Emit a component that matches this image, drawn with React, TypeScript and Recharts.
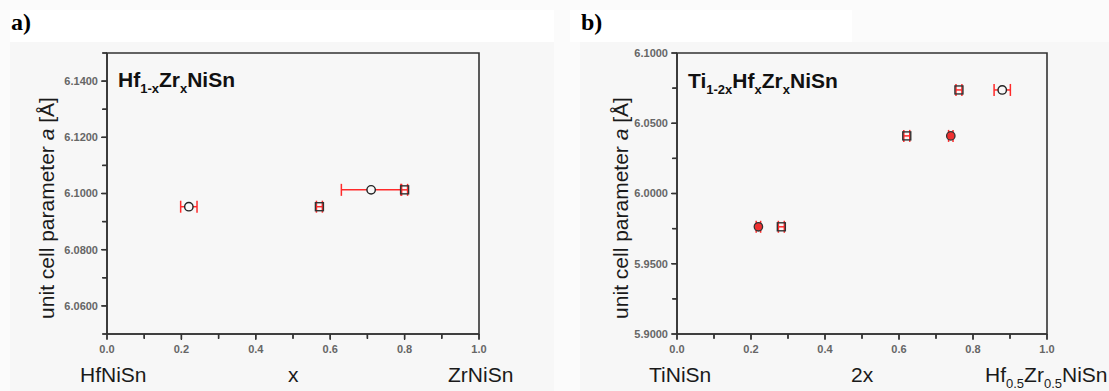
import React from "react";
import { ScatterChart, Scatter, XAxis, YAxis, ErrorBar } from "recharts";

// panel a) Hf1-xZrxNiSn
const aCircleX = [0.22, 0.71];
const aCircleY = [6.0953, 6.1013];
const aCircleErr = [0.022, 0.08];
const aSquareX = [0.571, 0.8];
const aSquareY = [6.0953, 6.1013];
const aSquareErr = [0.008, 0.008];

// panel b) Ti1-2xHfxZrxNiSn
const bOpenX = [0.879];
const bOpenY = [6.0737];
const bOpenErr = [0.022];
const bRedX = [0.22, 0.74];
const bRedY = [5.9763, 6.041];
const bRedErr = [0.006, 0.006];
const bSquareX = [0.282, 0.621, 0.762];
const bSquareY = [5.9763, 6.041, 6.0737];
const bSquareErr = [0.008, 0.008, 0.008];

// axes
const xDomain = [0, 1];
const yDomainA = [6.05, 6.15];
const yDomainB = [5.9, 6.1];
const xTicks = [0, 0.1, 0.2, 0.3, 0.4, 0.5, 0.6, 0.7, 0.8, 0.9, 1.0];
const xMajor = [0, 0.2, 0.4, 0.6, 0.8, 1.0];
const yTicksA = [6.05, 6.06, 6.07, 6.08, 6.09, 6.1, 6.11, 6.12, 6.13, 6.14, 6.15];
const yMajorA = [6.06, 6.08, 6.1, 6.12, 6.14];
const yTicksB = [5.9, 5.925, 5.95, 5.975, 6.0, 6.025, 6.05, 6.075, 6.1];
const yMajorB = [5.9, 5.95, 6.0, 6.05, 6.1];

const toPoints = (kind: string, xs: number[], ys: number[], es: number[]) =>
  xs.map((x, i) => ({ kind, x, y: ys[i], ex: es[i] }));

const dataA = [
  ...toPoints("square", aSquareX, aSquareY, aSquareErr),
  ...toPoints("open", aCircleX, aCircleY, aCircleErr),
];
const dataB = [
  ...toPoints("square", bSquareX, bSquareY, bSquareErr),
  ...toPoints("red", bRedX, bRedY, bRedErr),
  ...toPoints("open", bOpenX, bOpenY, bOpenErr),
];

const isIn = (v: number, list: number[]) => list.some((m) => Math.abs(m - v) < 1e-6);

// plot frame (corners of the domain, walked round) and tick marks, drawn through the scales
const frame = (yd: number[]) => [
  { x: xDomain[0], y: yd[0] }, { x: xDomain[1], y: yd[0] }, { x: xDomain[1], y: yd[1] },
  { x: xDomain[0], y: yd[1] }, { x: xDomain[0], y: yd[0] },
];
const xMarks = (yd: number[]) => xTicks.map((v) => ({ x: v, y: yd[0], major: isIn(v, xMajor) }));
const yMarks = (ticks: number[], major: number[]) => ticks.map((v) => ({ x: xDomain[0], y: v, major: isIn(v, major) }));

const SANS = "'Liberation Sans', Arial, sans-serif";
const AXIS = "#333";
const RED = "#ff2a2a";
const PANEL = "#f7f7f7";

const fmtX = (v: number) => (isIn(v, xMajor) ? v.toFixed(1) : "");
const fmtY = (major: number[]) => (v: number) => (isIn(v, major) ? v.toFixed(4) : "");
const tickStyle = { fontSize: 11, fontWeight: "bold", fontFamily: SANS, fill: "#666" };

const Empty = () => <g />;
const XMark = (p: any) => (
  <line x1={p.cx} x2={p.cx} y1={p.cy} y2={p.cy + (p.payload?.major ? 6 : 4)} stroke={AXIS} strokeWidth={1.3} />
);
const YMark = (p: any) => (
  <line x1={p.cx} x2={p.cx - (p.payload?.major ? 6 : 4)} y1={p.cy} y2={p.cy} stroke={AXIS} strokeWidth={1.3} />
);

const Marker = (p: any) => {
  const kind = p.payload?.kind;
  if (kind === "square")
    return <rect x={p.cx - 4} y={p.cy - 4} width={8} height={8} fill="none" stroke="#333" strokeWidth={1.4} />;
  if (kind === "red")
    return <circle cx={p.cx} cy={p.cy} r={4.2} fill="#f03030" stroke="#333" strokeWidth={1.3} />;
  return <circle cx={p.cx} cy={p.cy} r={4.2} fill={PANEL} stroke="#222" strokeWidth={1.4} />;
};

const sub = { position: "relative" as const, top: 6, fontSize: 13 };
const txt = { position: "absolute" as const, fontFamily: SANS, fontSize: 21, lineHeight: 1, color: "#1a1a1a", whiteSpace: "nowrap" as const };
const rot = { transform: "translate(-50%, -50%) rotate(-90deg)" };

const bg = [
  `linear-gradient(${PANEL}, ${PANEL}) 10px 42px / 544px 349px no-repeat`,
  `linear-gradient(${PANEL}, ${PANEL}) 580px 42px / 529px 349px no-repeat`,
  `linear-gradient(#fff, #fff) 10px 10px / 544px 32px no-repeat`,
  `linear-gradient(#fff, #fff) 570px 10px / 282px 32px no-repeat`,
  "#fbfbfb",
].join(", ");

function Panel(props: { left: number; width: number; yAxisWidth: number; right: number; yDomain: number[]; yTicks: number[]; yMajor: number[]; data: any[] }) {
  const { left, width, yAxisWidth, right, yDomain, yTicks, yMajor, data } = props;
  return (
    <ScatterChart width={width} height={391} margin={{ top: 53, right, bottom: 0, left: 0 }}
      style={{ position: "absolute", left, top: 0 }}>
      <XAxis type="number" dataKey="x" domain={xDomain} ticks={xTicks} interval={0} height={57}
        tickSize={5} tickMargin={6} stroke={AXIS} strokeWidth={1.5} tick={tickStyle} tickFormatter={fmtX} />
      <YAxis type="number" dataKey="y" domain={yDomain} ticks={yTicks} interval={0} width={yAxisWidth}
        tickSize={5} tickMargin={4} stroke={AXIS} strokeWidth={1.5} tick={tickStyle} tickFormatter={fmtY(yMajor)} />
      <Scatter data={frame(yDomain)} line={{ stroke: AXIS, strokeWidth: 1.6 }} lineType="joint" shape={Empty} isAnimationActive={false} />
      <Scatter data={xMarks(yDomain)} shape={XMark} isAnimationActive={false} />
      <Scatter data={yMarks(yTicks, yMajor)} shape={YMark} isAnimationActive={false} />
      <Scatter data={data} shape={Marker} isAnimationActive={false}>
        <ErrorBar dataKey="ex" direction="x" width={6} stroke={RED} strokeWidth={1.5} />
      </Scatter>
    </ScatterChart>
  );
}

export default function App() {
  return (
    <div style={{ position: "absolute", left: 0, top: 0, width: 1109, height: 391, background: bg }}>
      <div style={{ position: "absolute", left: 11, top: 10, fontFamily: "'Liberation Serif', serif", fontWeight: "bold", fontSize: 24, lineHeight: 1 }}>a)</div>
      <div style={{ position: "absolute", left: 581, top: 10, fontFamily: "'Liberation Serif', serif", fontWeight: "bold", fontSize: 24, lineHeight: 1 }}>b)</div>

      <Panel left={0} width={560} yAxisWidth={107} right={81} yDomain={yDomainA} yTicks={yTicksA} yMajor={yMajorA} data={dataA} />
      <Panel left={560} width={549} yAxisWidth={117} right={62} yDomain={yDomainB} yTicks={yTicksB} yMajor={yMajorB} data={dataB} />

      <div style={{ ...txt, ...rot, left: 46, top: 208 }}>unit cell parameter <i>a</i> [Å]</div>
      <div style={{ ...txt, ...rot, left: 620, top: 208 }}>unit cell parameter <i>a</i> [Å]</div>

      <div style={{ ...txt, left: 80, top: 364 }}>HfNiSn</div>
      <div style={{ ...txt, left: 288, top: 364 }}>x</div>
      <div style={{ ...txt, left: 448, top: 364 }}>ZrNiSn</div>
      <div style={{ ...txt, left: 649, top: 364 }}>TiNiSn</div>
      <div style={{ ...txt, left: 851, top: 364 }}>2x</div>
      <div style={{ ...txt, left: 985, top: 364 }}>
        Hf<span style={sub}>0.5</span>Zr<span style={sub}>0.5</span>NiSn
      </div>

      <div style={{ ...txt, left: 118, top: 69, fontWeight: "bold", color: "#111" }}>
        Hf<span style={sub}>1-x</span>Zr<span style={sub}>x</span>NiSn
      </div>
      <div style={{ ...txt, left: 688, top: 70, fontWeight: "bold", color: "#111" }}>
        Ti<span style={sub}>1-2x</span>Hf<span style={sub}>x</span>Zr<span style={sub}>x</span>NiSn
      </div>
    </div>
  );
}
